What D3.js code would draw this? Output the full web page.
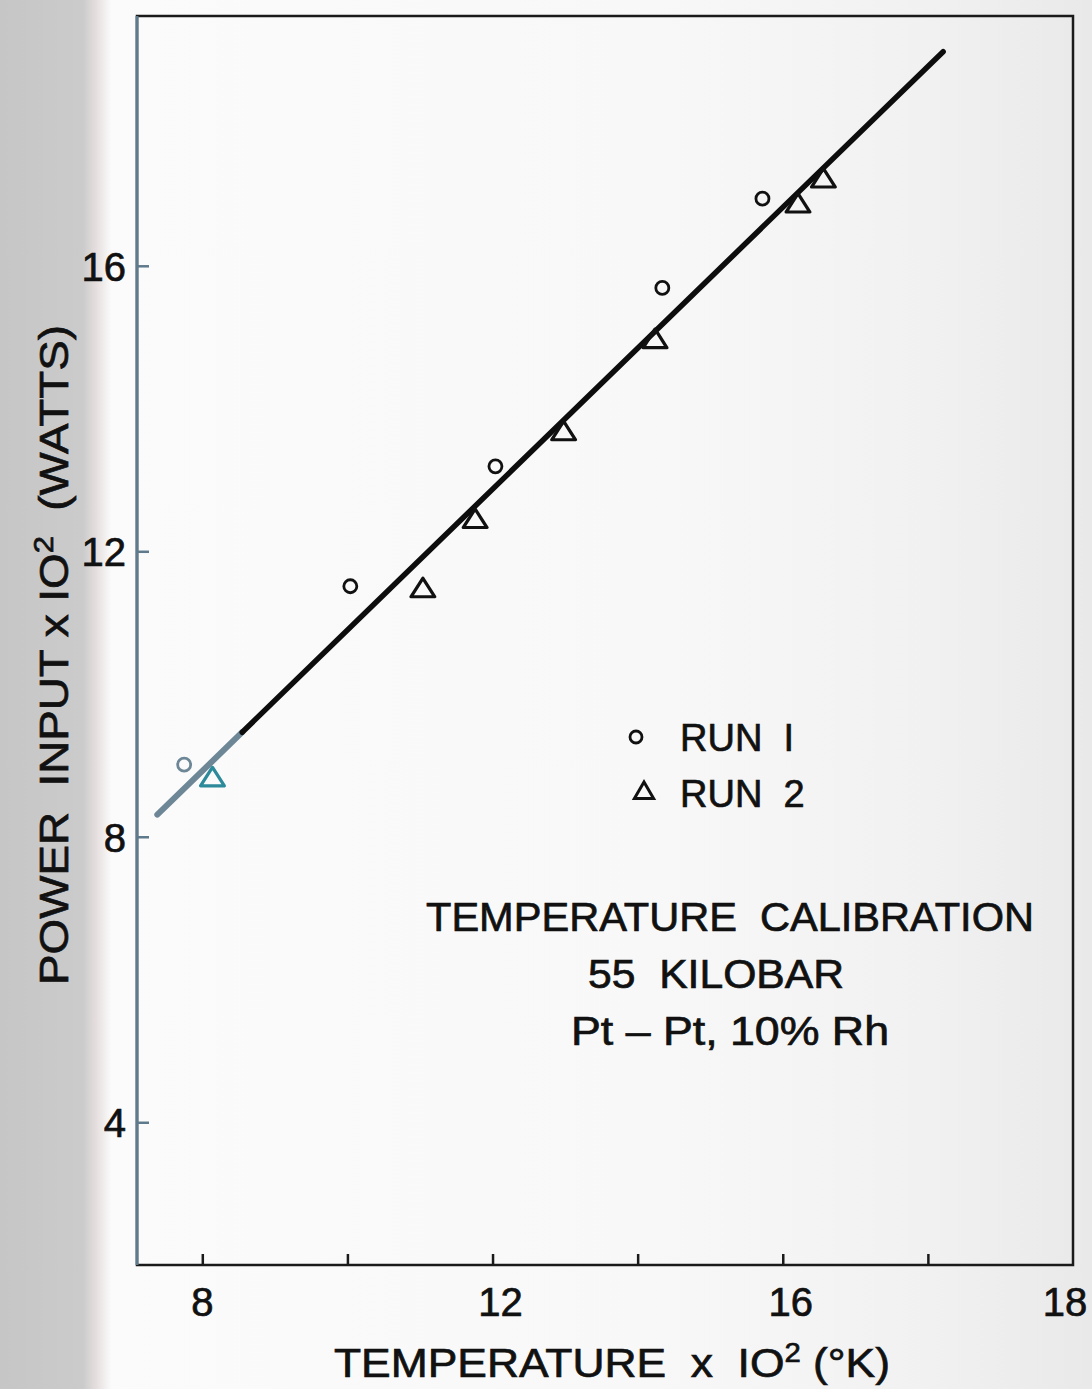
<!DOCTYPE html>
<html>
<head>
<meta charset="utf-8" />
<title>Temperature calibration</title>
<script src="https://cdn.jsdelivr.net/npm/d3@7/dist/d3.min.js"></script>
<style>
  body { margin: 0; background: #f4f4f4; }
  svg text { font-family: "Liberation Sans", "DejaVu Sans", sans-serif; fill: #111;
             stroke: #111; stroke-width: 0.7px; white-space: pre; }
</style>
</head>
<body>
<script>
// data
const run1 = [
  { t: 7.75, p: 9.01 },
  { t: 10.04, p: 11.51 },
  { t: 12.04, p: 13.19 },
  { t: 14.34, p: 15.69 },
  { t: 15.72, p: 16.94 }
];
const run2 = [
  { t: 8.14, p: 8.80 },
  { t: 11.04, p: 11.45 },
  { t: 11.76, p: 12.42 },
  { t: 12.98, p: 13.65 },
  { t: 14.24, p: 14.94 },
  { t: 16.21, p: 16.84 },
  { t: 16.56, p: 17.19 }
];
const fitLine = [ { t: 7.38, p: 8.31 }, { t: 18.21, p: 19.0 } ];
const fitGrayEnd = 8.55;   // scan tint on the low end of the line

const xTickMarks = [8, 10, 12, 14, 16, 18];
const xLabelPos = [8, 12, 16, 20];
const xLabelText = ["8", "12", "16", "18"];   // the "18" sits at the frame corner in the original
const yTicks = [4, 8, 12, 16];
const notes = ["TEMPERATURE  CALIBRATION", "55  KILOBAR", "Pt \u2013 Pt, 10% Rh"];
const legendItems = ["RUN  I", "RUN  2"];

const W = 1092, H = 1389;
const margin = { top: 16, right: 19, bottom: 124, left: 137 };

const svg = d3.select("body").append("svg")
  .attr("width", W)
  .attr("height", H);

// scanned paper background
const defs = svg.append("defs");
const bg = defs.append("linearGradient").attr("id", "paper");
[["0%", "#c6c6c6"], ["7.6%", "#cbcbcb"], ["8.8%", "#e6dede"], ["10.2%", "#fbfbfb"],
 ["60%", "#f8f8f8"], ["85%", "#f1f1f1"], ["100%", "#e9e9e9"]].forEach(s => {
  bg.append("stop").attr("offset", s[0]).attr("stop-color", s[1]);
});
svg.append("rect").attr("width", W).attr("height", H).attr("fill", "url(#paper)");

const x = d3.scaleLinear().domain([7.1, 20]).range([margin.left, W - margin.right]);
const y = d3.scaleLinear().domain([2, 19.5]).range([H - margin.bottom, margin.top]);

const x0 = x.range()[0], x1 = x.range()[1];
const yb = y.range()[0], yt = y.range()[1];

// frame
svg.append("rect")
  .attr("x", x0).attr("y", yt)
  .attr("width", x1 - x0).attr("height", yb - yt)
  .attr("fill", "none")
  .attr("stroke", "#1a1a1a")
  .attr("stroke-width", 2.5);
svg.append("line")
  .attr("x1", x0).attr("x2", x0).attr("y1", yt).attr("y2", yb)
  .attr("stroke", "#5f7a8c").attr("stroke-width", 3);

// x ticks point up into the plot
const xAxis = d3.axisBottom(x).tickValues(xTickMarks).tickSize(-11).tickFormat("");
svg.append("g")
  .attr("transform", `translate(0,${yb})`)
  .call(xAxis)
  .call(g => g.select(".domain").remove())
  .call(g => g.selectAll(".tick line").attr("stroke", "#1a1a1a").attr("stroke-width", 2.5));

svg.append("g").selectAll("text")
  .data(xLabelPos)
  .join("text")
  .attr("x", (d, i) => x(d) + (i === 3 ? -8 : (i === 0 ? 0 : 8)))
  .attr("y", yb + 51)
  .attr("text-anchor", "middle")
  .attr("font-size", 40)
  .text((d, i) => xLabelText[i]);

// y ticks point right into the plot
const yAxis = d3.axisLeft(y).tickValues(yTicks).tickSize(-12).tickPadding(11).tickFormat(d3.format("d"));
svg.append("g")
  .attr("transform", `translate(${x0},0)`)
  .call(yAxis)
  .call(g => g.select(".domain").remove())
  .call(g => g.selectAll(".tick line").attr("stroke", "#5f7a8c").attr("stroke-width", 2.5))
  .call(g => g.selectAll(".tick text")
    .attr("font-size", 40)
    .attr("dy", "0.36em")
    .attr("font-family", "Liberation Sans, sans-serif")
    .attr("fill", "#222"));

// axis titles
const xTitle = svg.append("text")
  .attr("x", 612)
  .attr("y", 1377)
  .attr("text-anchor", "middle")
  .attr("font-size", 41)
  .attr("textLength", 556)
  .attr("lengthAdjust", "spacingAndGlyphs");
xTitle.append("tspan").text("TEMPERATURE  x  IO");
xTitle.append("tspan").attr("font-size", 27).attr("dy", -15).text("2");
xTitle.append("tspan").attr("dy", 15).text(" (\u00b0K)");

const yTitle = svg.append("text")
  .attr("transform", `translate(68,${655}) rotate(-90)`)
  .attr("text-anchor", "middle")
  .attr("font-size", 40)
  .attr("textLength", 660)
  .attr("lengthAdjust", "spacingAndGlyphs");
yTitle.append("tspan").text("POWER  INPUT x IO");
yTitle.append("tspan").attr("font-size", 27).attr("dy", -15).text("2");
yTitle.append("tspan").attr("dy", 15).text("  (WATTS)");

// fitted line
const fitY = d3.scaleLinear().domain([fitLine[0].t, fitLine[1].t]).range([fitLine[0].p, fitLine[1].p]);
svg.append("line")
  .attr("x1", x(fitLine[0].t)).attr("y1", y(fitLine[0].p))
  .attr("x2", x(fitGrayEnd)).attr("y2", y(fitY(fitGrayEnd)))
  .attr("stroke", "#6d8797").attr("stroke-width", 6).attr("stroke-linecap", "round");
svg.append("line")
  .attr("x1", x(fitGrayEnd)).attr("y1", y(fitY(fitGrayEnd)))
  .attr("x2", x(fitLine[1].t)).attr("y2", y(fitLine[1].p))
  .attr("stroke", "#0d0d0d").attr("stroke-width", 5.5).attr("stroke-linecap", "round");

// run 1 - circles
svg.append("g").selectAll("circle")
  .data(run1)
  .join("circle")
  .attr("cx", d => x(d.t))
  .attr("cy", d => y(d.p))
  .attr("r", 6.5)
  .attr("fill", "none")
  .attr("stroke", (d, i) => i === 0 ? "#6d8797" : "#111")
  .attr("stroke-width", 2.8);

// run 2 - triangles
const tri = d3.symbol().type(d3.symbolTriangle).size(220);
svg.append("g").selectAll("path")
  .data(run2)
  .join("path")
  .attr("d", tri)
  .attr("transform", d => `translate(${x(d.t)},${y(d.p)}) scale(1.05,0.95)`)
  .attr("fill", "none")
  .attr("stroke", (d, i) => i === 0 ? "#2c8a9a" : "#111")
  .attr("stroke-width", 3.2)
  .attr("stroke-linejoin", "round");

// legend
const legend = svg.append("g").attr("transform", "translate(636,737)");
legend.append("circle")
  .attr("r", 6).attr("fill", "none").attr("stroke", "#111").attr("stroke-width", 2.8);
legend.append("path")
  .attr("d", d3.symbol().type(d3.symbolTriangle).size(160))
  .attr("transform", "translate(8,56)")
  .attr("fill", "none").attr("stroke", "#111").attr("stroke-width", 3);
legend.selectAll("text")
  .data(legendItems)
  .join("text")
  .attr("x", 44)
  .attr("y", (d, i) => 14 + i * 56)
  .attr("font-size", 38)
  .text(d => d);

// annotation block
svg.append("g").selectAll("text")
  .data(notes)
  .join("text")
  .attr("x", (d, i) => [730, 716, 730][i])
  .attr("y", (d, i) => 931 + i * 57)
  .attr("text-anchor", "middle")
  .attr("font-size", 40)
  .attr("textLength", (d, i) => [608, 256, 318][i])
  .attr("lengthAdjust", "spacingAndGlyphs")
  .text(d => d);
</script>
</body>
</html>
